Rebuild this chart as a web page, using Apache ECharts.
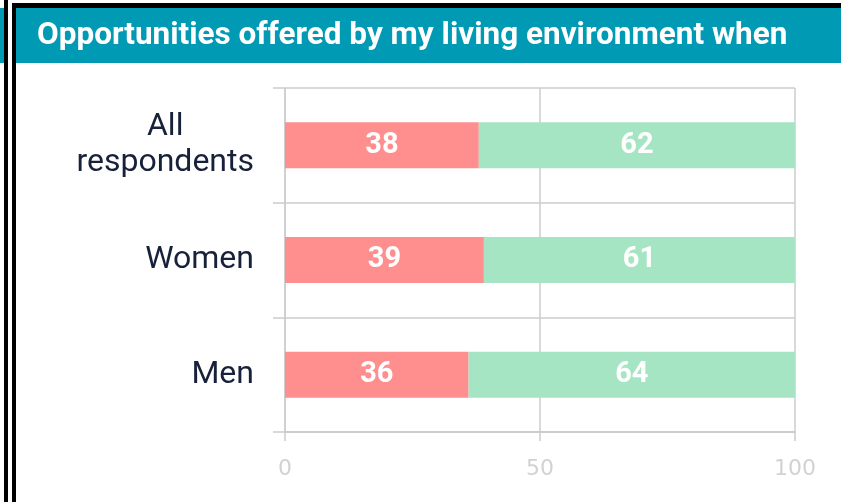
<!DOCTYPE html>
<html lang="en">
<head>
    <meta charset="UTF-8">
    <title>Opportunities</title>
    <style>
        html, body { margin: 0; padding: 0; background: #fff; }
        #container { width: 841px; height: 502px; }
    </style>
</head>
<body>
<div id="container"></div>
<script type="text/javascript" src="https://cdn.jsdelivr.net/npm/echarts@6/dist/echarts.min.js"></script>
<script type="text/javascript">
    var titleText = 'Opportunities offered by my living environment when';
    var categories = ['All\nrespondents', 'Women', 'Men'];
    var negValues = [38, 39, 36];
    var posValues = [62, 61, 64];
    var xTicks = [0, 50, 100];

    var dom = document.getElementById('container');
    var myChart = echarts.init(dom, null, { renderer: 'canvas' });

    var gridCol = '#cccccc';
    var barLabel = {
        show: true,
        position: 'inside',
        color: '#ffffff',
        fontFamily: 'Roboto',
        fontWeight: 'bold',
        fontSize: 29
    };

    var option = {
        animation: false,
        backgroundColor: '#ffffff',
        graphic: [
            // frame bits on the left and top
            { type: 'rect', shape: { x: 0, y: 8, width: 4, height: 55 }, style: { fill: '#009ab5' } },
            { type: 'rect', shape: { x: 4, y: 0, width: 4, height: 502 }, style: { fill: '#000' } },
            { type: 'rect', shape: { x: 12, y: 3, width: 4, height: 499 }, style: { fill: '#000' } },
            { type: 'rect', shape: { x: 12, y: 3, width: 829, height: 5 }, style: { fill: '#000' } },
            { type: 'rect', shape: { x: 16, y: 8, width: 825, height: 55 }, style: { fill: '#009ab5' } },
            {
                type: 'text', left: 37, top: 20,
                style: {
                    text: titleText, fill: '#ffffff',
                    font: 'bold 31.5px Roboto'
                }
            }
        ],
        grid: { left: 285, right: 46, top: 88, bottom: 70 },
        xAxis: {
            type: 'value',
            min: xTicks[0],
            max: xTicks[xTicks.length - 1],
            interval: xTicks[1] - xTicks[0],
            axisLine: { show: true, lineStyle: { color: gridCol, width: 2 } },
            axisTick: { show: true, length: 9, lineStyle: { color: gridCol, width: 1.5 } },
            splitLine: { show: true, lineStyle: { color: gridCol, width: 1.5 } },
            axisLabel: {
                color: '#d2d2d2',
                fontFamily: 'DejaVu Sans',
                fontSize: 22,
                margin: 26
            }
        },
        yAxis: {
            type: 'category',
            inverse: true,
            data: categories,
            axisLine: { show: true, lineStyle: { color: gridCol, width: 1.5 } },
            axisTick: { show: true, length: 12, lineStyle: { color: gridCol, width: 1.5 } },
            splitLine: { show: true, lineStyle: { color: gridCol, width: 1.5 } },
            axisLabel: {
                margin: 31,
                formatter: function (v) {
                    return v.split('\n').map(function (s) { return '{c|' + s + '}'; }).join('\n');
                },
                rich: {
                    c: {
                        align: 'center',
                        color: '#17213a',
                        fontFamily: 'Roboto',
                        fontSize: 32,
                        lineHeight: 36
                    }
                }
            }
        },
        series: [
            {
                name: 'neg',
                type: 'bar',
                stack: 'all',
                barWidth: 46,
                itemStyle: { color: '#ff8f8f' },
                label: barLabel,
                data: negValues
            },
            {
                name: 'pos',
                type: 'bar',
                stack: 'all',
                barWidth: 46,
                itemStyle: { color: '#a5e5c3' },
                label: barLabel,
                data: posValues
            }
        ]
    };

    myChart.setOption(option);
    window.addEventListener('resize', myChart.resize);
</script>
</body>
</html>
